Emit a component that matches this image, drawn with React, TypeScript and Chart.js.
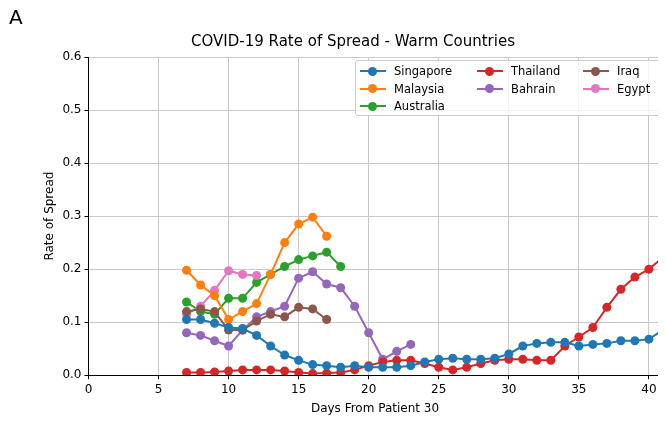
import { useEffect, useRef } from "react";
import { Chart, registerables } from "chart.js";

Chart.register(...registerables);

const days = Array.from({ length: 35 }, (_, i) => i + 7);

const singapore = [0.105, 0.105, 0.098, 0.09, 0.088, 0.075, 0.055, 0.038, 0.028, 0.02, 0.018, 0.015, 0.018, 0.015, 0.015, 0.015, 0.018, 0.025, 0.03, 0.032, 0.03, 0.03, 0.032, 0.04, 0.055, 0.06, 0.062, 0.062, 0.055, 0.058, 0.06, 0.065, 0.065, 0.068, 0.085];
const thailand = [0.005, 0.005, 0.006, 0.008, 0.01, 0.01, 0.01, 0.008, 0.005, 0.003, 0.004, 0.005, 0.01, 0.018, 0.025, 0.028, 0.028, 0.022, 0.015, 0.01, 0.015, 0.022, 0.028, 0.03, 0.03, 0.028, 0.028, 0.055, 0.072, 0.09, 0.128, 0.162, 0.185, 0.2, 0.222];
const malaysia = [0.198, 0.17, 0.15, 0.105, 0.12, 0.135, 0.19, 0.25, 0.285, 0.298, 0.262];
const australia = [0.138, 0.12, 0.115, 0.145, 0.145, 0.175, 0.19, 0.205, 0.218, 0.225, 0.232, 0.205];
const bahrain = [0.08, 0.075, 0.065, 0.055, 0.085, 0.11, 0.12, 0.13, 0.183, 0.195, 0.172, 0.165, 0.13, 0.08, 0.03, 0.045, 0.058];
const iraq = [0.12, 0.125, 0.12, 0.085, 0.085, 0.102, 0.115, 0.11, 0.128, 0.125, 0.105];
const egypt = [0.115, 0.13, 0.16, 0.197, 0.19, 0.188];

const series = [
  { name: "Singapore", color: "#1f77b4", data: singapore },
  { name: "Thailand", color: "#d62728", data: thailand },
  { name: "Iraq", color: "#8c564b", data: iraq },
  { name: "Malaysia", color: "#ff7f0e", data: malaysia },
  { name: "Bahrain", color: "#9467bd", data: bahrain },
  { name: "Egypt", color: "#e377c2", data: egypt },
  { name: "Australia", color: "#2ca02c", data: australia },
];

const font = "'DejaVu Sans', sans-serif";

export default function App() {
  const chartRef = useRef<HTMLCanvasElement>(null);

  useEffect(() => {
    let myChart: Chart | null = null;
    if (chartRef.current) {
      myChart = new Chart(chartRef.current, {
        type: "line",
        data: {
          datasets: series.map((s) => ({
            label: s.name,
            data: s.data.map((v, i) => ({ x: days[i], y: v })),
            borderColor: s.color,
            backgroundColor: s.color,
            borderWidth: 2,
            pointRadius: 4.5,
            pointBorderWidth: 0,
          })),
        },
        options: {
          animation: false,
          responsive: false,
          layout: { padding: { left: 41, right: 1, top: 33, bottom: 7 } },
          plugins: {
            legend: { display: false },
            tooltip: { enabled: false },
            title: {
              display: true,
              text: "COVID-19 Rate of Spread - Warm Countries",
              color: "#000",
              font: { family: font, size: 15, weight: "normal" },
              padding: { top: 0, bottom: 6 },
            },
          },
          scales: {
            x: {
              type: "linear",
              min: 0,
              max: 40.9,
              afterBuildTicks: (axis) => {
                axis.ticks = [0, 5, 10, 15, 20, 25, 30, 35, 40].map((v) => ({ value: v }));
              },
              ticks: { color: "#000", font: { family: font, size: 12 } },
              grid: { color: "#c8c8c8", tickColor: "#000", tickLength: 4 },
              border: { color: "#000" },
              title: { display: true, text: "Days From Patient 30", color: "#000", font: { family: font, size: 12 }, padding: 2 },
            },
            y: {
              min: 0,
              max: 0.6,
              ticks: { stepSize: 0.1, color: "#000", font: { family: font, size: 12 }, callback: (v) => Number(v).toFixed(1) },
              grid: { color: "#c8c8c8", tickColor: "#000", tickLength: 4 },
              border: { color: "#000" },
              title: { display: true, text: "Rate of Spread", color: "#000", font: { family: font, size: 12 }, padding: 2 },
            },
          },
        },
      });
    }
    return () => {
      if (myChart) myChart.destroy();
    };
  }, []);

  const cols = [360, 477, 583];
  return (
    <div style={{ position: "relative", width: 666, height: 425, margin: -8, background: "#fff", fontFamily: font, overflow: "hidden" }}>
      <canvas ref={chartRef} width={666} height={425} style={{ position: "absolute", left: 0, top: 0 }} />
      <div style={{ position: "absolute", left: 9, top: 5, fontSize: 20 }}>A</div>
      <div style={{ position: "absolute", left: 355, top: 60, width: 304, height: 54, border: "1px solid #ccc", borderRadius: 3, background: "rgba(255,255,255,0.8)" }} />
      {series.map((s, i) => (
        <div key={s.name} style={{ position: "absolute", left: cols[i % 3], top: 64 + Math.floor(i / 3) * 17.5, display: "flex", alignItems: "center", fontSize: 11.5 }}>
          <div style={{ position: "relative", width: 26, height: 12, marginRight: 8 }}>
            <div style={{ position: "absolute", left: 0, top: 5, width: 26, height: 2, background: s.color }} />
            <div style={{ position: "absolute", left: 8, top: 1.5, width: 9, height: 9, borderRadius: 5, background: s.color }} />
          </div>
          {s.name}
        </div>
      ))}
      <div style={{ position: "absolute", left: 0, top: 418, width: 666, height: 7, background: "#eee" }} />
    </div>
  );
}
